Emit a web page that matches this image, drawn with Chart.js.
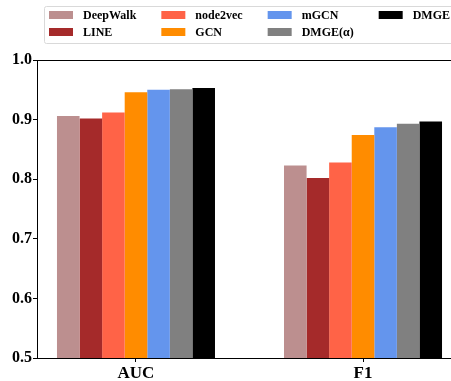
<!DOCTYPE html>
<html>
<head>
<meta charset="utf-8">
<script src="https://cdn.jsdelivr.net/npm/chart.js@4.4.0/dist/chart.umd.min.js"></script>
<style>
html, body { margin: 0; padding: 0; overflow: hidden; background: #fff; }
#wrap { width: 470px; height: 381px; }
</style>
</head>
<body>
<div id="wrap"><canvas id="chart" width="470" height="381"></canvas></div>
<script>
// data
const metrics = ['AUC', 'F1'];
const methods = ['DeepWalk', 'LINE', 'node2vec', 'GCN', 'mGCN', 'DMGE(α)', 'DMGE'];
const colors = ['#BC8F8F', '#A52A2A', '#FF6347', '#FF8C00', '#6495ED', '#808080', '#000000'];
const aucScores = [0.906, 0.902, 0.912, 0.946, 0.950, 0.951, 0.953];
const f1Scores = [0.823, 0.802, 0.828, 0.874, 0.887, 0.893, 0.897];

const serif = '"Liberation Serif", "Times New Roman", serif';

const datasets = methods.map((name, i) => ({
    label: name,
    data: [{ x: 0, y: aucScores[i] }, { x: 1, y: f1Scores[i] }],
    backgroundColor: colors[i],
    borderWidth: 0,
    categoryPercentage: 0.696,
    barPercentage: 1.0
}));

// matplotlib-style legend: two rows, filled column by column
const gridLegend = {
    id: 'gridLegend',
    afterDraw(chart) {
        const ctx = chart.ctx;
        ctx.save();
        ctx.font = 'bold 12px ' + serif;
        ctx.textBaseline = 'middle';
        ctx.textAlign = 'left';

        // frame
        ctx.strokeStyle = '#d9d9d9';
        ctx.lineWidth = 1;
        ctx.beginPath();
        ctx.roundRect(44.5, 6.5, 425, 37, 2);
        ctx.stroke();

        const rows = [15, 32];
        let x = 49;
        const items = chart.data.datasets;
        for (let c = 0; c * 2 < items.length; c++) {
            let maxW = 0;
            for (let r = 0; r < 2; r++) {
                const ds = items[c * 2 + r];
                if (!ds) continue;
                ctx.fillStyle = ds.backgroundColor;
                ctx.fillRect(x, rows[r] - 4, 24, 8);
                ctx.fillStyle = '#000';
                ctx.fillText(ds.label, x + 34, rows[r] + 1);
                maxW = Math.max(maxW, ctx.measureText(ds.label).width);
            }
            x += 34 + maxW + 25;
        }
        ctx.restore();
    }
};

// box around the axes
const frame = {
    id: 'frame',
    afterDatasetsDraw(chart) {
        const a = chart.chartArea;
        const ctx = chart.ctx;
        ctx.save();
        ctx.strokeStyle = '#000';
        ctx.lineWidth = 1;
        ctx.beginPath();
        ctx.moveTo(a.left, a.top + 0.5);
        ctx.lineTo(a.right, a.top + 0.5);
        ctx.moveTo(a.right - 0.5, a.top);
        ctx.lineTo(a.right - 0.5, a.bottom);
        ctx.stroke();
        ctx.restore();
    }
};

new Chart(document.getElementById('chart'), {
    type: 'bar',
    data: { datasets: datasets },
    options: {
        responsive: false,
        devicePixelRatio: 1,
        animation: false,
        layout: { padding: { top: 60, right: 8, left: 0, bottom: 0 } },
        plugins: {
            legend: { display: false },
            tooltip: { enabled: false }
        },
        scales: {
            x: {
                type: 'linear',
                min: -0.436,
                max: 1.436,
                offset: false,
                afterBuildTicks: scale => { scale.ticks = metrics.map((m, i) => ({ value: i })); },
                afterFit: scale => { scale.height = 23; },
                ticks: {
                    callback: v => metrics[v],
                    color: '#000',
                    padding: 1,
                    font: { family: serif, size: 17, weight: 'bold' }
                },
                grid: { offset: false, drawOnChartArea: false, drawTicks: true, tickLength: 4, color: '#000' },
                border: { display: true, color: '#000', width: 1 }
            },
            y: {
                min: 0.5,
                max: 1.0,
                afterFit: scale => { scale.width = 37; },
                ticks: {
                    stepSize: 0.1,
                    callback: v => v.toFixed(1),
                    color: '#000',
                    padding: 1,
                    font: { family: serif, size: 16, weight: 'bold' }
                },
                grid: { drawOnChartArea: false, drawTicks: true, tickLength: 4, color: '#000' },
                border: { display: true, color: '#000', width: 1 }
            }
        }
    },
    plugins: [gridLegend, frame]
});
</script>
</body>
</html>
